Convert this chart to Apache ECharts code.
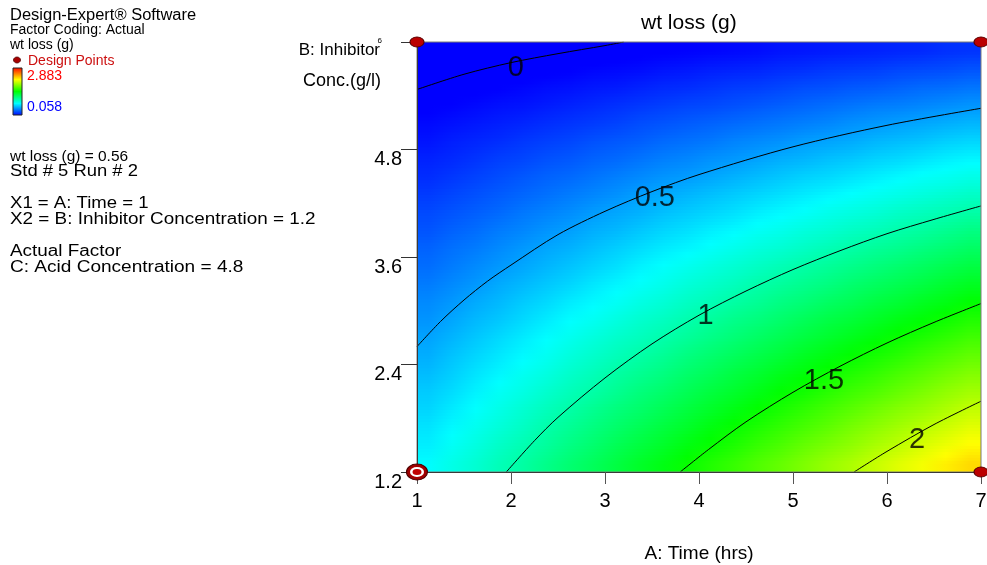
<!DOCTYPE html>
<html>
<head>
<meta charset="utf-8">
<script src="https://cdn.jsdelivr.net/npm/echarts@6/dist/echarts.min.js"></script>
<style>
html,body{margin:0;padding:0;background:#fff;overflow:hidden;}
#chart{width:987px;height:565px;}
</style>
</head>
<body>
<div id="chart"></div>
<script>
// ---------- data ----------
const xTicks = [1, 2, 3, 4, 5, 6, 7];              // A: Time (hrs)
const yTicks = [1.2, 2.4, 3.6, 4.8, 6];            // B: Inhibitor Conc. (g/l)

// surface sample positions (A across, B up)
const cellA = [1.125,1.375,1.625,1.875,2.125,2.375,2.625,2.875,3.125,3.375,3.625,3.875,
               4.125,4.375,4.625,4.875,5.125,5.375,5.625,5.875,6.125,6.375,6.625,6.875];
const cellB = [1.3,1.5,1.7,1.9,2.1,2.3,2.5,2.7,2.9,3.1,3.3,3.5,
               3.7,3.9,4.1,4.3,4.5,4.7,4.9,5.1,5.3,5.5,5.7,5.9];

// predicted wt loss (g), one row per B sample (bottom to top), one value per A sample
const wtLoss = [
 [0.76,0.83,0.89,0.96,1.02,1.09,1.16,1.22,1.29,1.36,1.42,1.49,1.56,1.62,1.69,1.75,1.82,1.89,1.95,2.02,2.09,2.15,2.22,2.28],
 [0.72,0.79,0.85,0.92,0.98,1.04,1.11,1.17,1.24,1.30,1.36,1.43,1.49,1.55,1.62,1.68,1.75,1.81,1.87,1.94,2.00,2.07,2.13,2.19],
 [0.69,0.75,0.81,0.87,0.93,1.00,1.06,1.12,1.18,1.24,1.30,1.36,1.43,1.49,1.55,1.61,1.67,1.73,1.80,1.86,1.92,1.98,2.04,2.10],
 [0.65,0.71,0.77,0.83,0.89,0.95,1.01,1.07,1.13,1.18,1.24,1.30,1.36,1.42,1.48,1.54,1.60,1.66,1.72,1.78,1.84,1.89,1.95,2.01],
 [0.62,0.67,0.73,0.79,0.84,0.90,0.96,1.01,1.07,1.13,1.18,1.24,1.30,1.35,1.41,1.47,1.52,1.58,1.64,1.69,1.75,1.81,1.87,1.92],
 [0.58,0.63,0.69,0.74,0.80,0.85,0.91,0.96,1.02,1.07,1.12,1.18,1.23,1.29,1.34,1.40,1.45,1.50,1.56,1.61,1.67,1.72,1.78,1.83],
 [0.54,0.60,0.65,0.70,0.75,0.80,0.86,0.91,0.96,1.01,1.06,1.12,1.17,1.22,1.27,1.32,1.38,1.43,1.48,1.53,1.58,1.64,1.69,1.74],
 [0.51,0.56,0.61,0.66,0.71,0.76,0.81,0.86,0.91,0.95,1.00,1.05,1.10,1.15,1.20,1.25,1.30,1.35,1.40,1.45,1.50,1.55,1.60,1.65],
 [0.47,0.52,0.57,0.61,0.66,0.71,0.76,0.80,0.85,0.90,0.94,0.99,1.04,1.09,1.13,1.18,1.23,1.28,1.32,1.37,1.42,1.46,1.51,1.56],
 [0.44,0.48,0.53,0.57,0.62,0.66,0.71,0.75,0.79,0.84,0.88,0.93,0.97,1.02,1.06,1.11,1.15,1.20,1.24,1.29,1.33,1.38,1.42,1.47],
 [0.40,0.44,0.48,0.53,0.57,0.61,0.65,0.70,0.74,0.78,0.82,0.87,0.91,0.95,1.00,1.04,1.08,1.12,1.17,1.21,1.25,1.29,1.34,1.38],
 [0.36,0.40,0.44,0.48,0.52,0.56,0.60,0.64,0.68,0.73,0.77,0.81,0.85,0.89,0.93,0.97,1.01,1.05,1.09,1.13,1.17,1.21,1.25,1.29],
 [0.33,0.37,0.40,0.44,0.48,0.52,0.55,0.59,0.63,0.67,0.71,0.74,0.78,0.82,0.86,0.89,0.93,0.97,1.01,1.05,1.08,1.12,1.16,1.20],
 [0.29,0.33,0.36,0.40,0.43,0.47,0.50,0.54,0.57,0.61,0.65,0.68,0.72,0.75,0.79,0.82,0.86,0.89,0.93,0.96,1.00,1.03,1.07,1.11],
 [0.26,0.29,0.32,0.35,0.39,0.42,0.45,0.49,0.52,0.55,0.59,0.62,0.65,0.68,0.72,0.75,0.78,0.82,0.85,0.88,0.92,0.95,0.98,1.01],
 [0.22,0.25,0.28,0.31,0.34,0.37,0.40,0.43,0.46,0.50,0.53,0.56,0.59,0.62,0.65,0.68,0.71,0.74,0.77,0.80,0.83,0.86,0.89,0.92],
 [0.18,0.21,0.24,0.27,0.30,0.33,0.35,0.38,0.41,0.44,0.47,0.49,0.52,0.55,0.58,0.61,0.64,0.66,0.69,0.72,0.75,0.78,0.80,0.83],
 [0.15,0.17,0.20,0.23,0.25,0.28,0.30,0.33,0.35,0.38,0.41,0.43,0.46,0.48,0.51,0.54,0.56,0.59,0.61,0.64,0.66,0.69,0.72,0.74],
 [0.11,0.14,0.16,0.18,0.21,0.23,0.25,0.28,0.30,0.32,0.35,0.37,0.39,0.42,0.44,0.46,0.49,0.51,0.53,0.56,0.58,0.60,0.63,0.65],
 [0.08,0.10,0.12,0.14,0.16,0.18,0.20,0.22,0.24,0.27,0.29,0.31,0.33,0.35,0.37,0.39,0.41,0.43,0.46,0.48,0.50,0.52,0.54,0.56],
 [0.04,0.06,0.08,0.10,0.11,0.13,0.15,0.17,0.19,0.21,0.23,0.25,0.26,0.28,0.30,0.32,0.34,0.36,0.38,0.40,0.41,0.43,0.45,0.47],
 [0.00,0.02,0.04,0.05,0.07,0.09,0.10,0.12,0.13,0.15,0.17,0.18,0.20,0.22,0.23,0.25,0.27,0.28,0.30,0.31,0.33,0.35,0.36,0.38],
 [-0.03,-0.02,0.00,0.01,0.02,0.04,0.05,0.07,0.08,0.09,0.11,0.12,0.14,0.15,0.16,0.18,0.19,0.21,0.22,0.23,0.25,0.26,0.27,0.29],
 [-0.07,-0.06,-0.04,-0.03,-0.02,-0.01,0.00,0.01,0.02,0.04,0.05,0.06,0.07,0.08,0.09,0.11,0.12,0.13,0.14,0.15,0.16,0.17,0.19,0.20]
];

// contour lines, [A, B] points
const contour0   = [[1,5.47],[1.5,5.64],[2,5.77],[2.5,5.87],[3,5.96],[3.2,6.0]];
const contour0_5 = [[1,2.60],[1.25,2.88],[1.5,3.12],[1.75,3.33],[2,3.51],[2.5,3.85],[3,4.11],[3.5,4.33],[4,4.52],[5,4.83],[6,5.07],[7,5.26]];
const contour1   = [[1.95,1.2],[2.25,1.55],[2.5,1.81],[3,2.25],[3.5,2.63],[4,2.95],[4.5,3.22],[5,3.46],[5.5,3.67],[6,3.86],[6.5,4.02],[7,4.17]];
const contour1_5 = [[3.8,1.2],[4.1,1.45],[4.5,1.76],[5,2.09],[5.5,2.38],[6,2.64],[6.5,2.87],[7,3.08]];
const contour2   = [[5.65,1.2],[6,1.43],[6.5,1.73],[7,1.99]];
const contourLevels = ['0', '0.5', '1', '1.5', '2'];
const labelA = [2.05, 3.53, 4.07, 5.33, 6.32];
const labelB = [5.71, 4.26, 2.94, 2.22, 1.56];

// design points
const designA = [1, 7, 7];
const designB = [6, 6, 1.2];
const selectedA = [1];
const selectedB = [1.2];

const colorMin = 0.058, colorMax = 2.883;

// ---------- chart ----------
const FONT = "'Liberation Sans', Arial, Helvetica, sans-serif";
const palette = ['#0000ff', '#00ffff', '#00ff00', '#ffff00', '#ff0000'];

function hexRgb(h) { return [parseInt(h.substr(1,2),16), parseInt(h.substr(3,2),16), parseInt(h.substr(5,2),16)]; }
const paletteRgb = palette.map(hexRgb);
function valueColor(v) {
  let t = (v - colorMin) / (colorMax - colorMin);
  t = Math.max(0, Math.min(1, t)) * (paletteRgb.length - 1);
  const i = Math.min(Math.floor(t), paletteRgb.length - 2);
  const f = t - i;
  const a = paletteRgb[i], b = paletteRgb[i + 1];
  return 'rgb(' + Math.round(a[0] + (b[0]-a[0])*f) + ',' + Math.round(a[1] + (b[1]-a[1])*f) + ',' + Math.round(a[2] + (b[2]-a[2])*f) + ')';
}

const halfA = (cellA[1] - cellA[0]) / 2;
const halfB = (cellB[1] - cellB[0]) / 2;
const rowData = cellB.map((b, r) => [cellA[0] - halfA, b, cellA[cellA.length - 1] + halfA, r]);
const SUB = 6; // shading sub-strips per sample row

// shade one sample row: thin strips, each blending towards the neighbouring sample row
function renderRow(params, api) {
  const r = api.value(3);
  const b = api.value(1);
  const xa = api.value(0), xb = api.value(2);
  const children = [];
  for (let k = 0; k < SUB; k++) {
    const lo = b - halfB + (2 * halfB) * k / SUB;
    const hi = b - halfB + (2 * halfB) * (k + 1) / SUB;
    const mid = (lo + hi) / 2;
    const off = (mid - b) / (2 * halfB);
    const nb = off < 0 ? Math.max(r - 1, 0) : Math.min(r + 1, wtLoss.length - 1);
    const w = Math.abs(off);
    const row = wtLoss[r], other = wtLoss[nb];
    const stops = row.map((v, j) => ({
      offset: (j + 0.5) / row.length,
      color: valueColor(v * (1 - w) + other[j] * w)
    }));
    const p0 = api.coord([xa, hi]);
    const p1 = api.coord([xb, lo]);
    children.push({
      type: 'rect',
      shape: { x: p0[0], y: p0[1], width: p1[0] - p0[0], height: p1[1] - p0[1] + 0.8 },
      style: { fill: new echarts.graphic.LinearGradient(0, 0, 1, 0, stops) }
    });
  }
  return { type: 'group', children: children };
}

const contours = [contour0, contour0_5, contour1, contour1_5, contour2];
const labelData = contourLevels.map((t, i) => ({ name: t, value: [labelA[i], labelB[i]] }));
const designData = designA.map((a, i) => [a, designB[i]]);
const selectedData = selectedA.map((a, i) => [a, selectedB[i]]);

function txt(text, x, y, size, opts) {
  opts = opts || {};
  return { type: 'text', x: x, y: y, silent: true, scaleX: opts.sx || 1,
    style: { text: text, fill: opts.fill || '#000', font: size + 'px ' + FONT,
             align: opts.align || 'left', verticalAlign: 'middle' } };
}

const chart = echarts.init(document.getElementById('chart'), null, { renderer: 'canvas' });
chart.setOption({
  animation: false,
  backgroundColor: '#ffffff',
  textStyle: { fontFamily: FONT },
  title: {
    text: 'wt loss (g)', left: 636, top: 8,
    textStyle: { fontSize: 21, fontWeight: 'normal', color: '#000', fontFamily: FONT }
  },
  grid: { left: 417, top: 42, width: 564, height: 430, show: true, z: 10,
          outerBoundsMode: 'none', containLabel: false,
          backgroundColor: 'transparent', borderColor: '#7a7a7a', borderWidth: 1 },
  xAxis: {
    type: 'value', min: xTicks[0], max: xTicks[xTicks.length - 1], interval: 1, position: 'bottom', z: 11,
    axisLine: { show: true, lineStyle: { color: '#3a3a3a', width: 1 } },
    axisTick: { show: true, inside: false, length: 12, lineStyle: { color: '#555' } },
    axisLabel: { margin: 19, fontSize: 20, color: '#000', fontFamily: FONT,
                 formatter: v => String(v) },
    splitLine: { show: false },
    name: 'A: Time (hrs)', nameLocation: 'middle', nameGap: 72,
    nameTextStyle: { fontSize: 19, color: '#000', fontFamily: FONT }
  },
  yAxis: {
    type: 'value', min: yTicks[0], max: yTicks[yTicks.length - 1], interval: 1.2, position: 'left', z: 11,
    axisLine: { show: true, lineStyle: { color: '#3a3a3a', width: 1 } },
    axisTick: { show: true, inside: false, length: 16, lineStyle: { color: '#333' } },
    axisLabel: { margin: 15, fontSize: 20, color: '#000', fontFamily: FONT, verticalAlign: 'top',
                 formatter: v => (Math.abs(v - 6) < 1e-6 ? '' : (Math.round(v * 10) / 10).toFixed(1)) },
    splitLine: { show: false }
  },
  graphic: [
    txt('Design-Expert® Software', 10, 16, 16, { sx: 1.03 }),
    txt('Factor Coding: Actual', 10, 30, 14),
    txt('wt loss (g)', 10, 45, 14),
    { type: 'ellipse', shape: { cx: 17, cy: 60, rx: 3.5, ry: 3 }, silent: true,
      style: { fill: '#a80000', stroke: '#500000', lineWidth: 0.8 } },
    txt('Design Points', 28, 61, 14, { fill: '#cc1010' }),
    { type: 'rect', shape: { x: 13, y: 68, width: 9, height: 47 }, silent: true,
      style: { stroke: '#222', lineWidth: 1,
        fill: new echarts.graphic.LinearGradient(0, 1, 0, 0, [
          { offset: 0, color: palette[0] }, { offset: 0.25, color: palette[1] },
          { offset: 0.5, color: palette[2] }, { offset: 0.75, color: palette[3] },
          { offset: 1, color: palette[4] } ]) } },
    txt(String(colorMax), 27, 76, 14, { fill: '#ff0000' }),
    txt(String(colorMin), 27, 107, 14, { fill: '#0000ff' }),
    txt('wt loss (g) = 0.56', 10, 157, 15, { sx: 1.03 }),
    txt('Std # 5 Run # 2', 10, 172, 16, { sx: 1.15 }),
    txt('X1 = A: Time = 1', 10, 204, 16, { sx: 1.16 }),
    txt('X2 = B: Inhibitor Concentration = 1.2', 10, 220, 16, { sx: 1.18 }),
    txt('Actual Factor', 10, 252, 16, { sx: 1.18 }),
    txt('C: Acid Concentration = 4.8', 10, 268, 16, { sx: 1.19 }),
    txt('B: Inhibitor', 380, 50, 17, { align: 'right' }),
    txt('Conc.(g/l)', 381, 81, 18, { align: 'right' }),
    txt('6', 382, 41, 8, { align: 'right' })
  ],
  series: [
    { type: 'custom', data: rowData, renderItem: renderRow, silent: true, clip: true, z: 1,
      encode: { x: 0, y: 1 } },
    ...contours.map(c => ({
      type: 'line', data: c, smooth: 0.3,
      symbol: 'none', showSymbol: false, silent: true, z: 3,
      lineStyle: { color: '#000', width: 1 }
    })),
    { type: 'scatter', data: labelData, symbolSize: 0, silent: true, z: 4,
      label: { show: true, position: 'inside', formatter: p => p.name,
               fontSize: 29, color: '#000', fontFamily: FONT } },
    { type: 'scatter', data: designData, clip: false, silent: true, z: 12,
      symbol: 'circle', symbolSize: [14, 10],
      itemStyle: { color: '#bb0000', borderColor: '#5a0000', borderWidth: 1, opacity: 1 } },
    { type: 'scatter', data: selectedData, clip: false, silent: true, z: 12,
      symbol: 'circle', symbolSize: [21, 16],
      itemStyle: { color: '#a00000', borderColor: '#4a0000', borderWidth: 1, opacity: 1 } },
    { type: 'scatter', data: selectedData, clip: false, silent: true, z: 13,
      symbol: 'circle', symbolSize: [14, 10],
      itemStyle: { color: '#ffffff', opacity: 1 } },
    { type: 'scatter', data: selectedData, clip: false, silent: true, z: 14,
      symbol: 'circle', symbolSize: [9, 6],
      itemStyle: { color: '#c00000', opacity: 1 } }
  ]
});
</script>
</body>
</html>
